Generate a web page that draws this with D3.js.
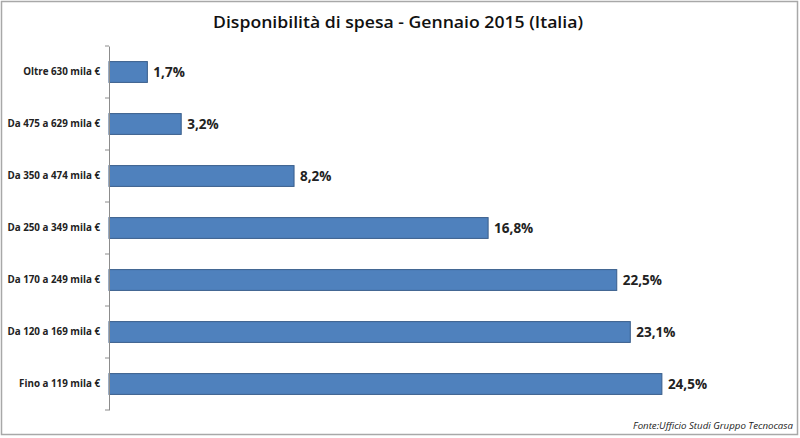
<!DOCTYPE html>
<html><head><meta charset="utf-8">
<script src="https://cdn.jsdelivr.net/npm/d3@7"></script>
<style>body{margin:0;background:#fff}svg{display:block}</style>
</head><body>
<svg id="c" width="800" height="438"></svg>
<script>
const categories = ["Oltre 630 mila €","Da 475 a 629 mila €","Da 350 a 474 mila €","Da 250 a 349 mila €","Da 170 a 249 mila €","Da 120 a 169 mila €","Fino a 119 mila €"];
const values = [1.7, 3.2, 8.2, 16.8, 22.5, 23.1, 24.5];
const valueLabels = ["1,7%","3,2%","8,2%","16,8%","22,5%","23,1%","24,5%"];
const title = "Disponibilità di spesa - Gennaio 2015 (Italia)";
const source = "Fonte:Ufficio Studi Gruppo Tecnocasa";

(function(){
const svg = d3.select("#c");
const F = "'Open Sans', 'DejaVu Sans', sans-serif";
svg.append("rect").attr("x",1.5).attr("y",1.5).attr("width",796).attr("height",433)
  .attr("fill","#fff").attr("stroke","#a8a8a8").attr("stroke-width",1.5);

const mLeft = 109, mTop = 46, mBottom = 410;
const x = d3.scaleLinear().domain([0, 30]).range([mLeft, mLeft + 677]);
const y = d3.scaleBand().domain(categories).range([mTop, mBottom]).paddingInner(0.6).paddingOuter(0.3);

svg.append("text").attr("x",398).attr("y",28).attr("text-anchor","middle")
  .attr("font-family",F).attr("font-size",16.5).attr("font-weight",600).attr("fill","#111")
  .attr("textLength",370).attr("lengthAdjust","spacingAndGlyphs").text(title);

svg.selectAll("rect.bar").data(values).join("rect").attr("class","bar")
  .attr("x", x(0)).attr("y",(d,i)=>y(categories[i]))
  .attr("width", d=>x(d)-x(0)).attr("height", y.bandwidth())
  .attr("fill","#4f81bd").attr("stroke","#385d8a").attr("stroke-width",1);

svg.selectAll("text.val").data(values).join("text").attr("class","val")
  .attr("x", d=>x(d)+6).attr("y",(d,i)=>y(categories[i])+y.bandwidth()/2+5)
  .attr("font-family",F).attr("font-size",13.5).attr("font-weight",700).attr("fill","#222")
  .text((d,i)=>valueLabels[i]);

const ax = svg.append("g").attr("transform",`translate(${mLeft},0)`)
  .call(d3.axisLeft(y).tickSize(0).tickPadding(9));
ax.select(".domain").attr("stroke","#8c8c8c");
ax.selectAll("text").attr("font-family",F).attr("font-size",9.8).attr("font-weight",700).attr("fill","#222");

const step = y.step();
const y0 = y(categories[0]) - step*y.paddingInner()/2;
const bounds = d3.range(categories.length+1).map(i => y0 + i*step);
svg.selectAll("line.tk").data(bounds).join("line").attr("class","tk")
  .attr("x1",mLeft-4).attr("x2",mLeft).attr("y1",d=>d).attr("y2",d=>d)
  .attr("stroke","#8c8c8c");

svg.append("text").attr("x",793).attr("y",429).attr("text-anchor","end")
  .attr("font-family",F).attr("font-size",9).attr("font-style","italic").attr("fill","#222")
  .attr("textLength",160).attr("lengthAdjust","spacingAndGlyphs")
  .text(source);
})();
</script>
</body></html>
